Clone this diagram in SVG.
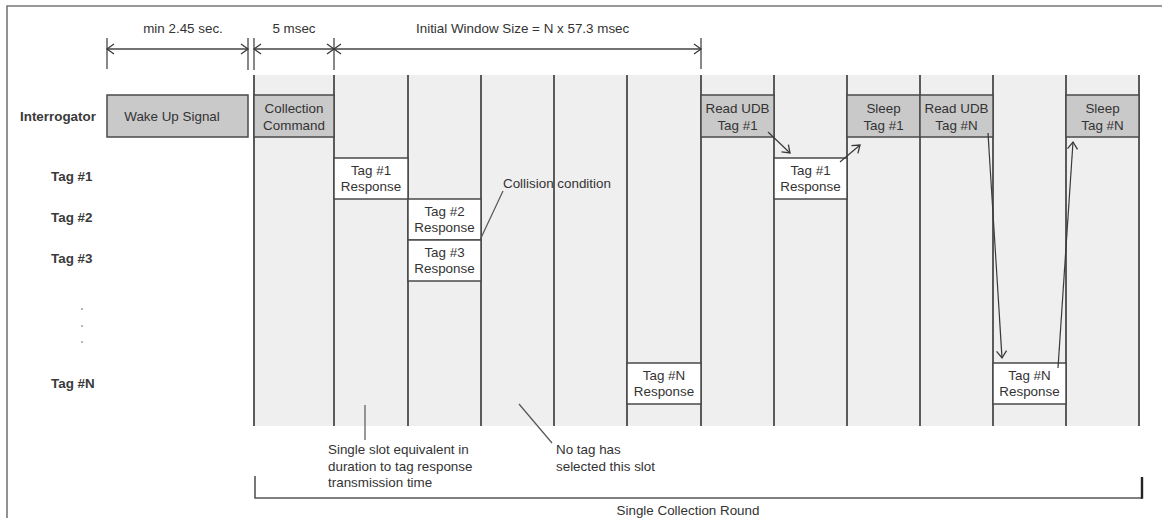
<svg xmlns="http://www.w3.org/2000/svg" width="1162" height="518" viewBox="0 0 1162 518">
<style>
text{font-family:"Liberation Sans",Arial,sans-serif;font-size:13.4px;fill:#333}
.lbl{font-weight:bold;fill:#3a3a3a}
.c{text-anchor:middle}
.slot{stroke:#4a4a4a;stroke-width:1.8}
.cmd{fill:#c9c9c9;stroke:#4a4a4a;stroke-width:1.5}
.rsp{fill:#fff;stroke:#4a4a4a;stroke-width:1.5}
.dim{stroke:#444;stroke-width:1.4;fill:none}
.tick{stroke:#555;stroke-width:1.4}
.arr{stroke:#3a3a3a;stroke-width:1.2;fill:none}
.ptr{stroke:#555;stroke-width:1.2;fill:none}
</style>
<defs>
<marker id="ah" viewBox="-1 -6 10 12" refX="7" refY="0" markerWidth="10" markerHeight="12" markerUnits="userSpaceOnUse" orient="auto-start-reverse">
<path d="M0,-5 L7,0 L0,5" fill="none" stroke="#3a3a3a" stroke-width="1.3"/>
</marker>
</defs>
<rect width="1162" height="518" fill="#fff"/>
<path d="M7,518 V6 H1162" fill="none" stroke="#777" stroke-width="1.6"/>
<rect x="254" y="75" width="885" height="351" fill="#efefef"/>
<g id="slots">
<line class="slot" x1="254" y1="75" x2="254" y2="426"/>
<line class="slot" x1="334" y1="75" x2="334" y2="426"/>
<line class="slot" x1="408" y1="75" x2="408" y2="426"/>
<line class="slot" x1="481" y1="75" x2="481" y2="426"/>
<line class="slot" x1="554" y1="75" x2="554" y2="426"/>
<line class="slot" x1="627" y1="75" x2="627" y2="426"/>
<line class="slot" x1="701" y1="75" x2="701" y2="426"/>
<line class="slot" x1="774" y1="75" x2="774" y2="426"/>
<line class="slot" x1="847" y1="75" x2="847" y2="426"/>
<line class="slot" x1="920" y1="75" x2="920" y2="426"/>
<line class="slot" x1="993" y1="75" x2="993" y2="426"/>
<line class="slot" x1="1066" y1="75" x2="1066" y2="426"/>
<line class="slot" x1="1139" y1="75" x2="1139" y2="426"/>
</g>
<g id="dimensions">
<line class="tick" x1="107" y1="38" x2="107" y2="69"/>
<line class="tick" x1="248" y1="38" x2="248" y2="70"/>
<line class="tick" x1="254" y1="38" x2="254" y2="70"/>
<line class="tick" x1="334" y1="38" x2="334" y2="70"/>
<line class="tick" x1="701" y1="38" x2="701" y2="69"/>
<line class="dim" x1="107" y1="49" x2="248" y2="49" marker-start="url(#ah)" marker-end="url(#ah)"/>
<line class="dim" x1="254" y1="49" x2="334" y2="49" marker-start="url(#ah)" marker-end="url(#ah)"/>
<line class="dim" x1="334" y1="49" x2="701" y2="49" marker-start="url(#ah)" marker-end="url(#ah)"/>
<text x="183" y="33" class="c">min 2.45 sec.</text>
<text x="294" y="33" class="c">5 msec</text>
<text x="416" y="33">Initial Window Size = N x 57.3 msec</text>
</g>
<g id="row-labels">
<text x="20" y="121" class="lbl">Interrogator</text>
<text x="51" y="181" class="lbl">Tag #1</text>
<text x="51" y="222" class="lbl">Tag #2</text>
<text x="51" y="263" class="lbl">Tag #3</text>
<text x="51" y="388" class="lbl">Tag #N</text>
<circle cx="82" cy="309" r="0.8" fill="#555"/>
<circle cx="82" cy="326" r="0.8" fill="#555"/>
<circle cx="82" cy="342" r="0.8" fill="#555"/>
</g>
<g id="wake-up">
<rect class="cmd" x="107" y="95" width="141" height="42"/>
<text x="172" y="121" class="c">Wake Up Signal</text>
</g>
<g id="collection-command">
<rect class="cmd" x="254" y="95" width="80" height="42"/>
<text x="294" y="113" class="c">Collection</text>
<text x="294" y="130" class="c">Command</text>
</g>
<g id="read-udb-1">
<rect class="cmd" x="701" y="95" width="73" height="42"/>
<text x="737.5" y="113" class="c">Read UDB</text>
<text x="737.5" y="130" class="c">Tag #1</text>
</g>
<g id="sleep-1">
<rect class="cmd" x="847" y="95" width="73" height="42"/>
<text x="883.5" y="113" class="c">Sleep</text>
<text x="883.5" y="130" class="c">Tag #1</text>
</g>
<g id="read-udb-n">
<rect class="cmd" x="920" y="95" width="73" height="42"/>
<text x="956.5" y="113" class="c">Read UDB</text>
<text x="956.5" y="130" class="c">Tag #N</text>
</g>
<g id="sleep-n">
<rect class="cmd" x="1066" y="95" width="73" height="42"/>
<text x="1102.5" y="113" class="c">Sleep</text>
<text x="1102.5" y="130" class="c">Tag #N</text>
</g>
<g id="tag1-response">
<rect class="rsp" x="334" y="158" width="74" height="41"/>
<text x="371" y="175" class="c">Tag #1</text>
<text x="371" y="191" class="c">Response</text>
</g>
<g id="tag2-response">
<rect class="rsp" x="408" y="199" width="73" height="41"/>
<text x="444.5" y="215.5" class="c">Tag #2</text>
<text x="444.5" y="231.5" class="c">Response</text>
</g>
<g id="tag3-response">
<rect class="rsp" x="408" y="240" width="73" height="41"/>
<text x="444.5" y="256.5" class="c">Tag #3</text>
<text x="444.5" y="272.5" class="c">Response</text>
</g>
<g id="tagn-response">
<rect class="rsp" x="627" y="363" width="74" height="41"/>
<text x="664" y="380" class="c">Tag #N</text>
<text x="664" y="396" class="c">Response</text>
</g>
<g id="tag1-response-b">
<rect class="rsp" x="774" y="158" width="73" height="41"/>
<text x="810.5" y="175" class="c">Tag #1</text>
<text x="810.5" y="191" class="c">Response</text>
</g>
<g id="tagn-response-b">
<rect class="rsp" x="993" y="363" width="73" height="41"/>
<text x="1029.5" y="380" class="c">Tag #N</text>
<text x="1029.5" y="396" class="c">Response</text>
</g>
<g id="connectors">
<line class="arr" x1="768" y1="132" x2="790" y2="153" marker-end="url(#ah)"/>
<line class="arr" x1="840" y1="162" x2="860" y2="145" marker-end="url(#ah)"/>
<line class="arr" x1="988" y1="133" x2="1002" y2="358" marker-end="url(#ah)"/>
<line class="arr" x1="1058" y1="368" x2="1073" y2="142" marker-end="url(#ah)"/>
<line class="ptr" x1="480" y1="240" x2="503" y2="191"/>
<line class="ptr" x1="365" y1="405" x2="365" y2="440"/>
<line class="ptr" x1="519" y1="404" x2="552" y2="443"/>
</g>
<g id="annotations">
<text x="503" y="188">Collision condition</text>
<text x="328" y="454">Single slot equivalent in</text>
<text x="328" y="471">duration to tag response</text>
<text x="328" y="487">transmission time</text>
<text x="556" y="454">No tag has</text>
<text x="556" y="471">selected this slot</text>
</g>
<g id="bracket">
<path d="M255,476 V498 H1142" fill="none" stroke="#555" stroke-width="1.6"/>
<line x1="1142" y1="477" x2="1142" y2="498.8" stroke="#222" stroke-width="2.4"/>
<text x="688" y="514.5" class="c">Single Collection Round</text>
</g>
</svg>
